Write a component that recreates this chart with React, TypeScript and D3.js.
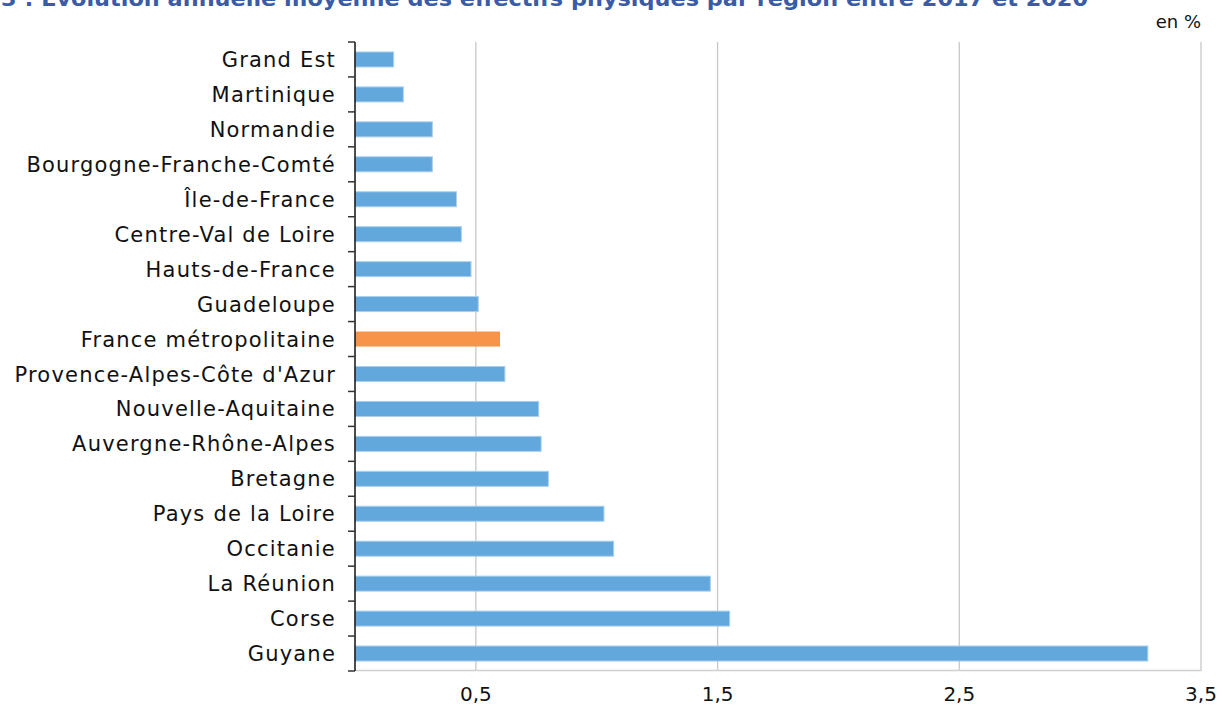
import React, { useEffect, useRef } from 'react';
import * as d3 from 'd3';

const regions = [
  'Grand Est',
  'Martinique',
  'Normandie',
  'Bourgogne-Franche-Comté',
  'Île-de-France',
  'Centre-Val de Loire',
  'Hauts-de-France',
  'Guadeloupe',
  'France métropolitaine',
  "Provence-Alpes-Côte d'Azur",
  'Nouvelle-Aquitaine',
  'Auvergne-Rhône-Alpes',
  'Bretagne',
  'Pays de la Loire',
  'Occitanie',
  'La Réunion',
  'Corse',
  'Guyane',
];

const values = [0.16, 0.2, 0.32, 0.32, 0.42, 0.44, 0.48, 0.51, 0.6, 0.62, 0.76, 0.77, 0.8, 1.03, 1.07, 1.47, 1.55, 3.28];

const highlight = 'France métropolitaine';
const xTicks = [0.5, 1.5, 2.5, 3.5];

const title = '3 : Évolution annuelle moyenne des effectifs physiques par région entre 2017 et 2020';
const unit = 'en %';

const W = 1223;
const H = 706;
const LABEL_FONT = "'DejaVu Sans', sans-serif";

const App = () => {
  const svgRef = useRef<SVGSVGElement>(null);

  useEffect(() => {
    const svg = d3.select(svgRef.current);
    svg.selectAll('*').remove();

    const margin = { top: 42, right: 22, bottom: 35, left: 355 };
    const innerW = W - margin.left - margin.right;
    const innerH = H - margin.top - margin.bottom;

    const x = d3.scaleLinear().domain([0, 3.5]).range([0, innerW]);
    const y = d3.scaleBand().domain(regions).range([0, innerH]).paddingInner(0.57).paddingOuter(0.285);

    const g = svg.append('g').attr('transform', `translate(${margin.left},${margin.top})`);

    // title (cut off at top like the source)
    svg.append('text')
      .attr('x', 1)
      .attr('y', 6)
      .attr('font-family', LABEL_FONT)
      .attr('font-weight', 700)
      .attr('font-size', 21)
      .attr('textLength', 1087)
      .attr('lengthAdjust', 'spacingAndGlyphs')
      .attr('fill', '#3A5BA6')
      .text(title);

    svg.append('text')
      .attr('x', 1201)
      .attr('y', 28)
      .attr('text-anchor', 'end')
      .attr('font-family', LABEL_FONT)
      .attr('font-size', 18)
      .attr('fill', '#111')
      .text(unit);

    // gridlines
    g.selectAll('.grid')
      .data(xTicks)
      .enter().append('line')
      .attr('x1', d => x(d))
      .attr('x2', d => x(d))
      .attr('y1', 0)
      .attr('y2', innerH)
      .attr('stroke', '#c8c8c8')
      .attr('stroke-width', 1.3);

    // bottom border
    g.append('line')
      .attr('x1', 0)
      .attr('x2', innerW)
      .attr('y1', innerH - 0.5)
      .attr('y2', innerH - 0.5)
      .attr('stroke', '#d0d0d0')
      .attr('stroke-width', 1.3);

    // bars
    g.selectAll('.bar')
      .data(regions)
      .enter().append('rect')
      .attr('x', 0)
      .attr('y', d => y(d)!)
      .attr('width', (d, i) => x(values[i]))
      .attr('height', y.bandwidth())
      .attr('fill', d => (d === highlight ? '#F7944A' : '#62A8DC'))
      .attr('stroke', d => (d === highlight ? 'none' : '#A9CFEE'))
      .attr('stroke-width', 1);

    // y axis line + ticks between categories
    g.append('line')
      .attr('x1', 0)
      .attr('x2', 0)
      .attr('y1', 0)
      .attr('y2', innerH)
      .attr('stroke', '#111')
      .attr('stroke-width', 1.5);

    const step = y.step();
    g.selectAll('.ytick')
      .data(d3.range(regions.length + 1))
      .enter().append('line')
      .attr('x1', -7)
      .attr('x2', 0)
      .attr('y1', i => i * step)
      .attr('y2', i => i * step)
      .attr('stroke', '#333')
      .attr('stroke-width', 1.5);

    // category labels
    g.selectAll('.ylabel')
      .data(regions)
      .enter().append('text')
      .attr('x', -19)
      .attr('y', d => y(d)! + y.bandwidth() / 2)
      .attr('dy', '0.36em')
      .attr('text-anchor', 'end')
      .attr('font-family', LABEL_FONT)
      .attr('font-size', 21)
      .attr('letter-spacing', 1.2)
      .attr('fill', '#111')
      .text(d => d);

    // x tick labels
    g.selectAll('.xlabel')
      .data(xTicks)
      .enter().append('text')
      .attr('x', d => x(d))
      .attr('y', innerH + 30)
      .attr('text-anchor', 'middle')
      .attr('font-family', LABEL_FONT)
      .attr('font-size', 20)
      .attr('fill', '#111')
      .text(d => d3.format('.1f')(d).replace('.', ','));
  }, []);

  return <svg ref={svgRef} width={W} height={H} style={{ position: 'absolute', left: 0, top: 0, background: '#fff' }} />;
};

export default App;
